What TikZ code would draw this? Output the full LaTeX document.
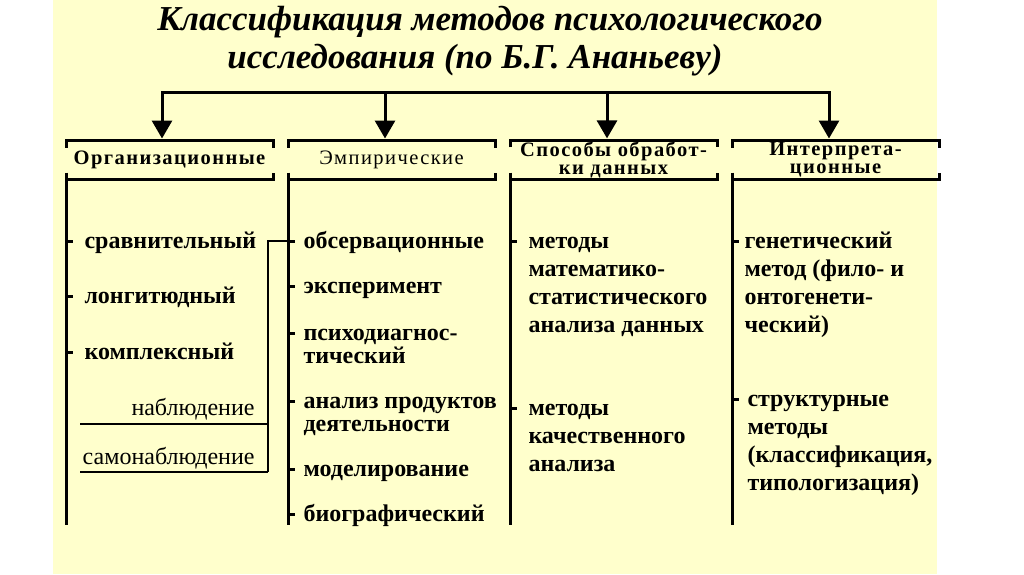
\documentclass[tikz,border=0pt]{standalone}
\usepackage{fontspec}
\setmainfont{Liberation Serif}
\usetikzlibrary{arrows.meta,calc,positioning}

\definecolor{paper}{RGB}{255,255,204}

% fixed height of the first line of an item
\newcommand{\fl}{\rule{0pt}{19.5pt}}

\newcommand{\headbracket}[1]{%
  \draw ([yshift=-7pt]#1.north west) -- (#1.north west) -- (#1.north east) -- ([yshift=-7pt]#1.north east);
  \draw ([yshift=7pt]#1.south west) -- (#1.south west) -- (#1.south east) -- ([yshift=7pt]#1.south east);
}

\begin{document}
\begin{tikzpicture}[x=1pt,y=-1pt,line width=3pt,
  title/.style={inner sep=0, anchor=base, font=\bfseries\itshape\fontsize{35}{38}\selectfont},
  head/.style={minimum width=204pt, minimum height=36pt, inner sep=0, align=center,
    font=\bfseries\fontsize{20.5}{18}\selectfont\addfontfeature{LetterSpace=7}},
  item/.style={anchor=north west, inner sep=0, align=left,
    font=\bfseries\fontsize{24}{28}\selectfont},
  tight/.style={font=\bfseries\fontsize{24}{23}\selectfont},
  sub/.style={inner sep=0, anchor=base east, font=\fontsize{24}{28}\selectfont},
  subline/.style={line width=1.5pt},
  arrow/.style={-{Triangle[width=20pt,length=18pt]}, shorten >=2pt}]

  % background
  \fill[white] (0,0) rectangle (1024,574);
  \fill[paper] (53,0) rectangle (937,574);

  % title
  \node[title] (t1) at (490,30) {Классификация методов психологического};
  \node[title] (t2) at (475,68) {исследования (по Б.Г. Ананьеву)};

  % headers
  \node[head] (org) at (169.5,160) {Организационные};
  \node[head, right=15pt of org, font=\fontsize{20.5}{18}\selectfont\addfontfeature{LetterSpace=7}] (emp) {Эмпирические};
  \node[head, right=15pt of emp] (spo) {Способы обработ-\\ки данных};
  \node[head, right=15pt of spo] (int) {Интерпрета-\\ционные};

  \headbracket{org}
  \headbracket{emp}
  \headbracket{spo}
  \headbracket{int}

  % arrows from the top bar
  \coordinate (a1) at (162,92);
  \coordinate (a2) at (385,92);
  \coordinate (a3) at (607,92);
  \coordinate (a4) at (829,92);
  \draw[arrow] (a1) -- (a4) -- (a4 |- int.north);
  \draw[arrow] (a4) -- (a1) -- (a1 |- org.north);
  \draw[arrow] (a2) -- (a2 |- emp.north);
  \draw[arrow] (a3) -- (a3 |- spo.north);

  % spines
  \coordinate (bottom) at (0,525);
  \draw (org.south west) -- (org.south west |- bottom);
  \draw (emp.south west) -- (emp.south west |- bottom);
  \draw (spo.south west) -- (spo.south west |- bottom);
  \draw (int.south west) -- (int.south west |- bottom);

  % organizational
  \node[item] (o1) at (83,227) {\fl сравнительный};
  \node[item] (o2) at (83,282) {\fl лонгитюдный};
  \node[item] (o3) at (83,338) {\fl комплексный};
  \node[sub] (nabl) at (256,415) {наблюдение};
  \node[sub] (samo) at (256,464) {самонаблюдение};

  % empirical
  \node[item] (e1) at (302,227) {\fl обсервационные};
  \node[item] (e2) at (302,272) {\fl эксперимент};
  \node[item, tight] (e3) at (302,319) {\fl психодиагнос-\\тический};
  \node[item, tight] (e4) at (302,387) {\fl анализ продуктов\\деятельности};
  \node[item] (e5) at (302,455) {\fl моделирование};
  \node[item] (e6) at (302,500) {\fl биографический};

  % data processing
  \node[item] (s1) at (527,227) {\fl методы\\математико-\\статистического\\анализа данных};
  \node[item] (s2) at (527,394) {\fl методы\\качественного\\анализа};

  % interpretational
  \node[item] (i1) at (743,227) {\fl генетический\\метод (фило- и\\онтогенети-\\ческий)};
  \node[item] (i2) at (746,385) {\fl структурные\\методы\\(классификация,\\типологизация)};

  % ticks
  \foreach \n in {o1,o2,o3}
    \draw (\n.north west -| org.west) ++(0,14) -- ++(7,0);
  \foreach \n in {e1,e2,e3,e4,e5,e6}
    \draw (\n.north west -| emp.west) ++(0,14) -- ++(7,0);
  \foreach \n in {s1,s2}
    \draw (\n.north west -| spo.west) ++(0,14) -- ++(7,0);
  \foreach \n in {i1,i2}
    \draw (\n.north west -| int.west) ++(0,14) -- ++(7,0);

  % observation bracket
  \coordinate (obs) at ($(e1.north west -| emp.west)+(0,14)$);
  \coordinate (nl) at (80,424);
  \coordinate (nr) at (268,424);
  \coordinate (sl) at (80,472);
  \coordinate (sr) at (268,472);
  \draw[subline] (nl) -- (nr);
  \draw[subline] (sl) -- (sr);
  \draw[line width=2pt] (sr) |- (obs);

\end{tikzpicture}
\end{document}
